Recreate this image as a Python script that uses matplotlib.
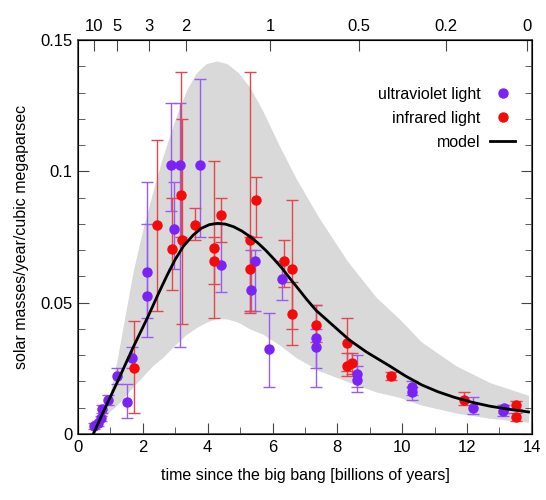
import numpy as np
import matplotlib
matplotlib.use("Agg")
import matplotlib.pyplot as plt
from matplotlib.ticker import MultipleLocator

plt.rcParams['font.family'] = ['Liberation Sans', 'DejaVu Sans']

# ultraviolet measurements: time [Gyr], rate, lower and upper error bounds
uv_t = [0.50, 0.60, 0.72, 0.75, 0.93, 1.20, 1.50, 1.66, 2.12, 2.12, 2.86, 2.95, 3.14, 3.75,
        4.40, 5.35, 5.45, 5.90, 6.30, 7.35, 7.35, 8.60, 8.60, 10.3, 10.3, 12.2, 13.1, 13.15]
uv_v = [0.003, 0.004, 0.006, 0.0095, 0.013, 0.022, 0.012, 0.029, 0.0615, 0.0525, 0.1026, 0.078,
        0.1026, 0.1026, 0.0645, 0.055, 0.066, 0.0325, 0.059, 0.0365, 0.033, 0.023, 0.0205,
        0.018, 0.016, 0.010, 0.0088, 0.0098]
uv_lo = [0.002, 0.003, 0.005, 0.008, 0.011, 0.019, 0.006, 0.025, 0.037, 0.044, 0.085, 0.063,
         0.033, 0.075, 0.054, 0.047, 0.047, 0.018, 0.051, 0.018, 0.025, 0.018, 0.016,
         0.015, 0.013, 0.0075, 0.007, 0.008]
uv_hi = [0.004, 0.005, 0.007, 0.011, 0.015, 0.025, 0.019, 0.033, 0.096, 0.080, 0.126, 0.096,
         0.126, 0.135, 0.080, 0.070, 0.070, 0.046, 0.066, 0.049, 0.040, 0.030, 0.026,
         0.020, 0.018, 0.014, 0.011, 0.011]

# infrared measurements
ir_t = [1.72, 2.45, 2.90, 3.17, 3.20, 3.60, 4.20, 4.20, 4.42, 5.30, 5.30, 5.50, 6.35, 6.60,
        6.60, 7.35, 8.30, 8.30, 8.45, 9.65, 11.9, 13.5, 13.5]
ir_v = [0.0253, 0.0795, 0.0706, 0.091, 0.074, 0.0796, 0.071, 0.066, 0.0833, 0.074, 0.063,
        0.089, 0.066, 0.063, 0.0457, 0.0415, 0.0347, 0.026, 0.027, 0.022, 0.013, 0.011, 0.0064]
ir_lo = [0.008, 0.047, 0.055, 0.075, 0.042, 0.074, 0.044, 0.057, 0.073, 0.046, 0.047,
         0.075, 0.056, 0.040, 0.034, 0.035, 0.024, 0.022, 0.023, 0.0205, 0.011, 0.0095, 0.005]
ir_hi = [0.043, 0.112, 0.090, 0.138, 0.120, 0.086, 0.104, 0.075, 0.090, 0.138, 0.075,
         0.098, 0.074, 0.089, 0.058, 0.049, 0.044, 0.031, 0.031, 0.0235, 0.016, 0.0125, 0.008]

# model curve and its uncertainty band
model_t = [0.47, 0.8, 1.2, 1.7, 2.15, 2.5, 2.75, 3.0, 3.25, 3.55, 3.8, 4.05, 4.3, 4.55, 4.8,
           5.05, 5.3, 5.55, 5.8, 6.05, 6.3, 6.55, 6.8, 7.05, 7.35, 7.85, 8.37, 8.9, 9.6,
           10.1, 10.6, 11.1, 11.6, 12.15, 12.7, 13.3, 13.9]
model_v = [0.0, 0.009, 0.0195, 0.033, 0.0445, 0.054, 0.0605, 0.0665, 0.0715, 0.0757, 0.0783,
           0.0797, 0.0802, 0.0799, 0.0789, 0.0773, 0.0752, 0.0727, 0.0698, 0.0665, 0.0630,
           0.0590, 0.0552, 0.0513, 0.047, 0.0415, 0.0358, 0.0312, 0.026, 0.0221, 0.0187,
           0.0161, 0.0140, 0.0121, 0.0106, 0.0094, 0.0084]

band_t = [0.47, 0.92, 1.2, 1.7, 2.0, 2.3, 2.6, 3.0, 3.35, 3.65, 3.95, 4.28, 4.6, 4.95, 5.3,
          5.7, 6.2, 6.74, 7.45, 8.3, 9.2, 9.9, 10.6, 11.66, 12.7, 13.9]
band_hi = [0.0, 0.012, 0.028, 0.062, 0.078, 0.092, 0.105, 0.120, 0.131, 0.1375, 0.1410,
           0.1420, 0.1410, 0.1375, 0.132, 0.123, 0.110, 0.097, 0.082, 0.066, 0.052, 0.044,
           0.035, 0.026, 0.0196, 0.0147]
band_lo = [0.0, 0.008, 0.011, 0.018, 0.022, 0.026, 0.029, 0.034, 0.038, 0.0405, 0.0425,
           0.0440, 0.0438, 0.0425, 0.040, 0.038, 0.034, 0.029, 0.024, 0.020, 0.016, 0.014,
           0.011, 0.008, 0.006, 0.0045]

# redshift labels on top axis
z_ticks = [10, 5, 3, 2, 1, 0.5, 0.2, 0]


def age_at_z(z, h0=68.0, om=0.3):
    """Age of a flat LCDM universe at redshift z, in Gyr."""
    ol = 1.0 - om
    hubble_time = 977.8 / h0
    x = np.sqrt(ol / om) * (1.0 + np.asarray(z, dtype=float)) ** -1.5
    return 2.0 / (3.0 * np.sqrt(ol)) * hubble_time * np.arcsinh(x)


fig = plt.figure(figsize=(5.46, 5.0), dpi=100)
ax = fig.add_axes([0.143, 0.132, 0.831, 0.788])

ax.fill_between(band_t, band_lo, band_hi, color='#d9d9d9', lw=0, zorder=1)


def draw_points(t, v, lo, hi, color, ecolor, label):
    t = np.array(t)
    v = np.array(v)
    yerr = [v - np.array(lo), np.array(hi) - v]
    ax.errorbar(t, v, yerr=yerr, fmt='none', ecolor=ecolor, elinewidth=1.0,
                capsize=4, capthick=1.0, zorder=2)
    ax.plot(t, v, 'o', color=color, ms=6.5, mec=color, zorder=3, label=label)


draw_points(uv_t, uv_v, uv_lo, uv_hi, '#7b22f5', '#9a5cf0', 'ultraviolet light')
draw_points(ir_t, ir_v, ir_lo, ir_hi, '#f50a0a', '#e0474f', 'infrared light')
ax.plot(model_t, model_v, color='black', lw=2, zorder=4, label='model',
        solid_joinstyle='round')

ax.set_xlim(0, 14)
ax.set_ylim(0, 0.15)
ax.xaxis.set_major_locator(MultipleLocator(2))
ax.xaxis.set_minor_locator(MultipleLocator(1))
ax.yaxis.set_major_locator(MultipleLocator(0.05))
ax.yaxis.set_minor_locator(MultipleLocator(0.01))
ax.set_yticks([0, 0.05, 0.1, 0.15])
ax.set_yticklabels(['0', '0.05', '0.1', '0.15'])
ax.tick_params(which='both', direction='in', top=False, right=True,
               labelsize=12, color='#444444', pad=4)
ax.tick_params(which='major', length=8)
ax.tick_params(which='minor', length=5)
for s in ax.spines.values():
    s.set_color('#444444')
    s.set_linewidth(1.2)

ax.set_xlabel('time since the big bang [billions of years]', fontsize=11.5, labelpad=10)
ax.set_ylabel('solar masses/year/cubic megaparsec', fontsize=11.5, labelpad=8)

top = ax.twiny()
top.set_xlim(ax.get_xlim())
top.set_xticks(age_at_z(z_ticks))
top.set_xticklabels([f'{z:g}' for z in z_ticks])
top.tick_params(direction='in', length=8, labelsize=12, color='#444444', pad=4)
top.xaxis.set_minor_locator(plt.NullLocator())

ax.legend(loc='upper right', bbox_to_anchor=(0.985, 0.905), frameon=False, markerfirst=False,
          fontsize=11.5, handlelength=1.6, handletextpad=0.6, labelspacing=0.55,
          borderaxespad=0.2)

fig.savefig('out.png', dpi=100)
